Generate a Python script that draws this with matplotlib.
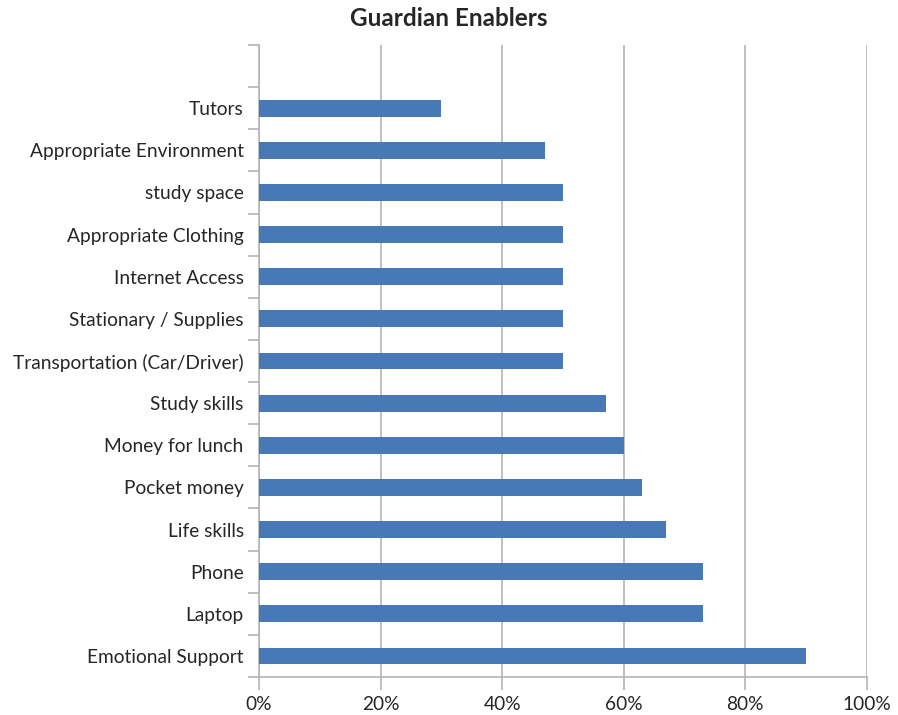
import matplotlib

matplotlib.use("Agg")
import matplotlib.pyplot as plt
from matplotlib.ticker import FixedLocator, PercentFormatter

# bottom-to-top order; the top slot stays empty
categories = [
    "Emotional Support",
    "Laptop",
    "Phone",
    "Life skills",
    "Pocket money",
    "Money for lunch",
    "Study skills",
    "Transportation (Car/Driver)",
    "Stationary / Supplies",
    "Internet Access",
    "Appropriate Clothing",
    "study space",
    "Appropriate Environment",
    "Tutors",
]
shares = [90, 73, 73, 67, 63, 60, 57, 50, 50, 50, 50, 50, 47, 30]
x_ticks = [0, 20, 40, 60, 80, 100]

BAR = "#4679B6"
GRID = "#B4B4B4"
TEXT = "#262626"

plt.rcParams["font.family"] = ["Lato", "DejaVu Sans"]

fig = plt.figure(figsize=(8.98, 7.15), dpi=100)
ax = fig.add_axes([0.2884, 0.0531, 0.677, 0.884])

pos = list(range(len(categories)))
ax.barh(pos, shares, height=0.4, color=BAR, zorder=3)

ax.set_xlim(0, 100)
ax.set_ylim(-0.5, len(categories) + 0.5)

ax.set_xticks(x_ticks)
ax.xaxis.set_major_formatter(PercentFormatter(decimals=0))
ax.grid(axis="x", color=GRID, linewidth=1.2, zorder=0)

ax.set_yticks(pos)
ax.set_yticklabels(categories)
ax.yaxis.set_minor_locator(FixedLocator([i - 0.5 for i in range(len(categories) + 2)]))
ax.tick_params(axis="y", which="major", length=0, pad=11, labelsize=13.8, labelcolor=TEXT)
ax.tick_params(axis="y", which="minor", length=8, width=1.2, color=GRID)
ax.tick_params(axis="x", which="major", length=9, width=1.2, color=GRID,
               pad=5, labelsize=13.8, labelcolor=TEXT)

for side in ("top", "right"):
    ax.spines[side].set_visible(False)
for side in ("left", "bottom"):
    ax.spines[side].set_color(GRID)
    ax.spines[side].set_linewidth(1.2)

fig.suptitle("Guardian Enablers", x=0.5, y=0.99, fontsize=17.5,
             fontweight="bold", color=TEXT)

fig.savefig("out.png", dpi=100)
